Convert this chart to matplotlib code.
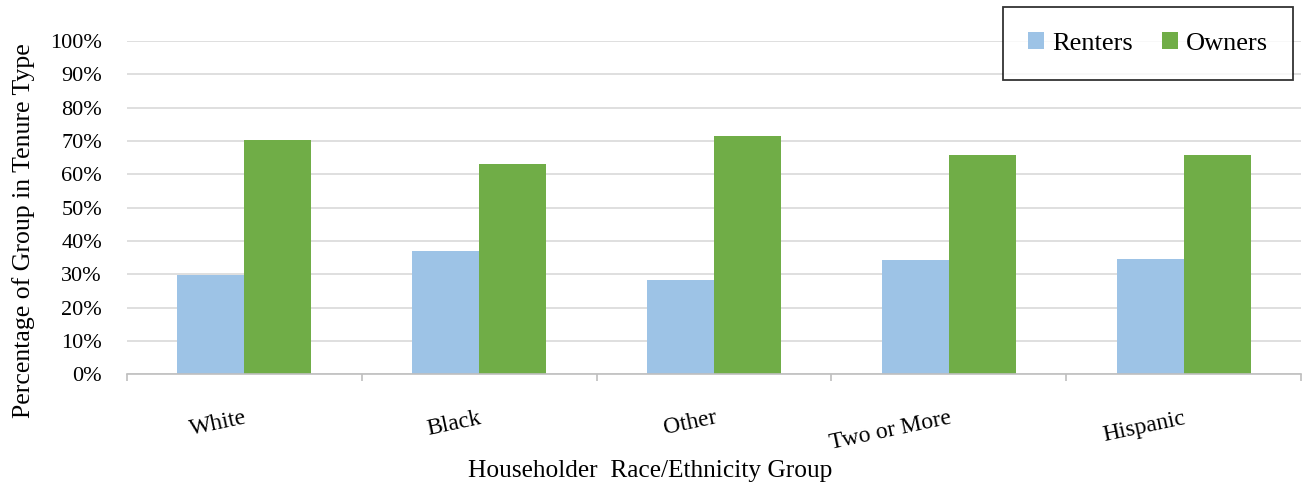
import numpy as np
import matplotlib.pyplot as plt
from matplotlib.ticker import PercentFormatter, FixedLocator

plt.rcParams["font.family"] = ["Liberation Serif", "DejaVu Serif"]

GROUPS = ["White", "Black", "Other", "Two or More", "Hispanic"]
RENTERS = [29.8, 37.0, 28.4, 34.2, 34.5]
OWNERS = [70.2, 63.2, 71.6, 65.8, 65.8]

RENT_COLOR = "#9dc3e6"
OWN_COLOR = "#70ad47"


def main():
    fig = plt.figure(figsize=(13.05, 4.88), dpi=100)
    ax = fig.add_axes([127 / 1305, 1 - 374.3 / 488, 1174 / 1305, 333.3 / 488])

    x = np.arange(len(GROUPS))
    w = 0.285
    ax.bar(x - w / 2, np.array(RENTERS) / 100, w, color=RENT_COLOR, label="Renters", zorder=2)
    ax.bar(x + w / 2, np.array(OWNERS) / 100, w, color=OWN_COLOR, label="Owners", zorder=2)

    ax.set_xlim(-0.5, len(GROUPS) - 0.5)
    ax.set_ylim(0, 1.0)
    ax.yaxis.set_major_locator(FixedLocator(np.arange(0, 1.01, 0.1)))
    ax.yaxis.set_major_formatter(PercentFormatter(1.0, decimals=0))
    ax.grid(axis="y", color="#d9d9d9", linewidth=1.2, zorder=0)
    ax.set_axisbelow(True)

    for side in ("top", "right", "left"):
        ax.spines[side].set_visible(False)
    ax.spines["bottom"].set_color("#bfbfbf")
    ax.spines["bottom"].set_linewidth(1.2)

    ax.tick_params(axis="y", length=0, pad=18, labelsize=16)
    ax.set_xticks(x)
    ax.set_xticklabels(GROUPS, rotation=12, ha="right", va="top",
                       rotation_mode="anchor", fontsize=17)
    ax.tick_params(axis="x", which="major", length=0, pad=24)
    ax.set_xticks(np.arange(-0.5, len(GROUPS), 1.0), minor=True)
    ax.tick_params(axis="x", which="minor", length=5, color="#bfbfbf", width=1.2)

    fig.text(0.498, 0.035, "Householder  Race/Ethnicity Group",
             ha="center", va="center", fontsize=18.3)
    fig.text(0.018, 0.527, "Percentage of Group in Tenure Type",
             ha="center", va="center", rotation=90, fontsize=18.5)

    leg = ax.legend(loc="upper right", bbox_to_anchor=(1293 / 1305, 1 - 7 / 488),
                    bbox_transform=fig.transFigure, ncol=2, fontsize=19,
                    frameon=True, fancybox=False, handlelength=0.6, handleheight=0.6,
                    handletextpad=0.3, columnspacing=1.12, borderpad=0.95,
                    borderaxespad=0)
    leg.get_frame().set_edgecolor("black")
    leg.get_frame().set_linewidth(1.3)

    fig.savefig("out.png", dpi=100)
    plt.close(fig)


if __name__ == "__main__":
    main()
